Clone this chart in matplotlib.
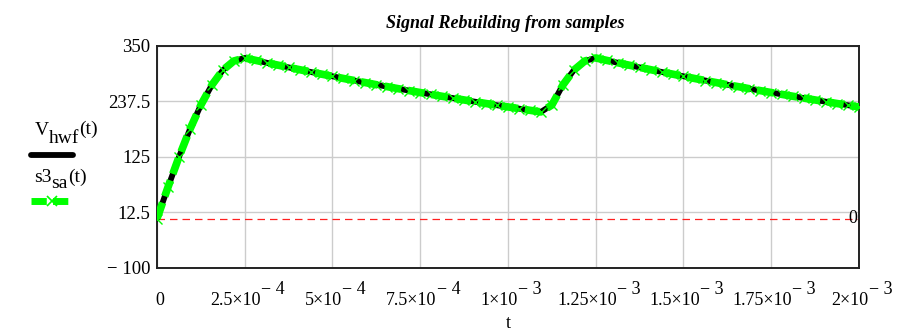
import matplotlib
matplotlib.use("Agg")
import matplotlib.pyplot as plt
from matplotlib.lines import Line2D
from matplotlib.transforms import IdentityTransform

plt.rcParams['font.family'] = ['Liberation Serif', 'DejaVu Serif']

# sample instants (s): 64 steps over 2 ms
t = [k * 3.125e-5 for k in range(65)]

# rebuilt signal values at those instants (V)
v = [0.0, 63.4, 124.4, 180.6, 229.8, 270.2, 300.3, 318.8, 325.0,
     320.1, 315.3, 310.6, 305.9, 301.3, 296.7, 292.3, 287.9, 283.5,
     279.3, 275.1, 270.9, 266.9, 262.8, 258.9, 255.0, 251.2, 247.4,
     243.7, 240.0, 236.4, 232.8, 229.3, 225.9, 222.5, 219.1, 215.8,
     229.8, 270.2, 300.3, 318.8, 325.0,
     320.1, 315.3, 310.6, 305.9, 301.3, 296.7, 292.3, 287.9, 283.5,
     279.3, 275.1, 270.9, 266.9, 262.8, 258.9, 255.0, 251.2, 247.4,
     243.7, 240.0, 236.4, 232.8, 229.3, 225.9]

x_ticks = [0, 2.5e-4, 5e-4, 7.5e-4, 1e-3, 1.25e-3, 1.5e-3, 1.75e-3, 2e-3]
# (mantissa, exponent) of each x tick label
x_labels = [('0', ''), ('2.5\u00d710', '4'), ('5\u00d710', '4'),
            ('7.5\u00d710', '4'), ('1\u00d710', '3'), ('1.25\u00d710', '3'),
            ('1.5\u00d710', '3'), ('1.75\u00d710', '3'), ('2\u00d710', '3')]
y_ticks = [-100, 12.5, 125, 237.5, 350]
y_labels = ['\u2212 100', '12.5', '125', '237.5', '350']

W, H = 903, 336
fig = plt.figure(figsize=(W / 100, H / 100), dpi=100)
ax = fig.add_axes([157 / W, 1 - 268 / H, 702 / W, 222.4 / H])
rend = fig.canvas.get_renderer()


def rich(x, y, parts, ha='center'):
    # parts: (text, fontsize, dy in px); x, y in pixels from bottom-left
    objs = []
    for s, fs, dy in parts:
        tx = fig.text(0, 0, s, fontsize=fs, transform=IdentityTransform(),
                      va='baseline', ha='left')
        objs.append((tx, tx.get_window_extent(rend).width, dy))
    total = sum(w for _, w, _ in objs)
    x0 = x - total / 2 if ha == 'center' else (x - total if ha == 'right' else x)
    for tx, w, dy in objs:
        tx.set_position((x0, y + dy))
        x0 += w


ax.plot(t, v, color='black', lw=4.2, solid_capstyle='round', zorder=3)
ax.plot(t, v, color='#00ff00', lw=5.5, linestyle=(0, (2.2, 0.9)),
        marker='x', markersize=7, markeredgewidth=1.0,
        markeredgecolor='#00ff00', zorder=4)

# marker line at 0
ax.axhline(0, color='#ff2020', lw=0.9, linestyle=(0, (6, 4)), zorder=2)
ax.text(1.994e-3, 0, '0', ha='right', va='center', fontsize=13, zorder=5)

ax.set_xlim(0, 2e-3)
ax.set_ylim(-100, 350)
ax.set_xticks(x_ticks)
ax.set_xticklabels([])
ax.set_yticks(y_ticks)
ax.set_yticklabels(y_labels, fontsize=13.5)
ax.tick_params(length=0, pad=5)
ax.grid(True, color='#cccccc', lw=1.0)
ax.set_axisbelow(True)
for s in ax.spines.values():
    s.set_color('#222222')
    s.set_linewidth(1.4)

# x tick labels, Mathcad style with full size raised exponent
for xt, (mant, ex) in zip(x_ticks, x_labels):
    px = ax.transData.transform((xt, 0))[0] + 3
    if ex:
        rich(px, 31, [(mant, 13, 0), ('\u2212 ' + ex, 13, 11)])
    else:
        rich(px, 31, [(mant, 13, 0)])

fig.text(508 / W, 8 / H, 't', ha='center', va='baseline', fontsize=13)
fig.text(505 / W, 308 / H, 'Signal Rebuilding from samples', ha='center',
         va='baseline', fontsize=13, fontweight='bold', fontstyle='italic')

# legend on the left, Mathcad style
rich(35, H - 135, [('V', 14, 0), ('hwf', 14, -8), ('(t)', 14, 1)], ha='left')
fig.add_artist(Line2D([31 / W, 73 / W], [1 - 155 / H, 1 - 155 / H],
                      color='black', lw=4.2, solid_capstyle='round',
                      transform=fig.transFigure))
rich(34, H - 182, [('s3', 14, 0), ('sa', 14, -6), ('(t)', 14, 0)], ha='left')
fig.add_artist(Line2D([31 / W, 73 / W], [1 - 201 / H, 1 - 201 / H],
                      color='#00ff00', lw=5, linestyle=(0, (2.2, 0.9)),
                      transform=fig.transFigure))
fig.add_artist(Line2D([52 / W], [1 - 201 / H], color='#00ff00', marker='x',
                      markersize=7, markeredgewidth=1.2, linestyle='none',
                      transform=fig.transFigure))

fig.savefig('out.png', dpi=100)
